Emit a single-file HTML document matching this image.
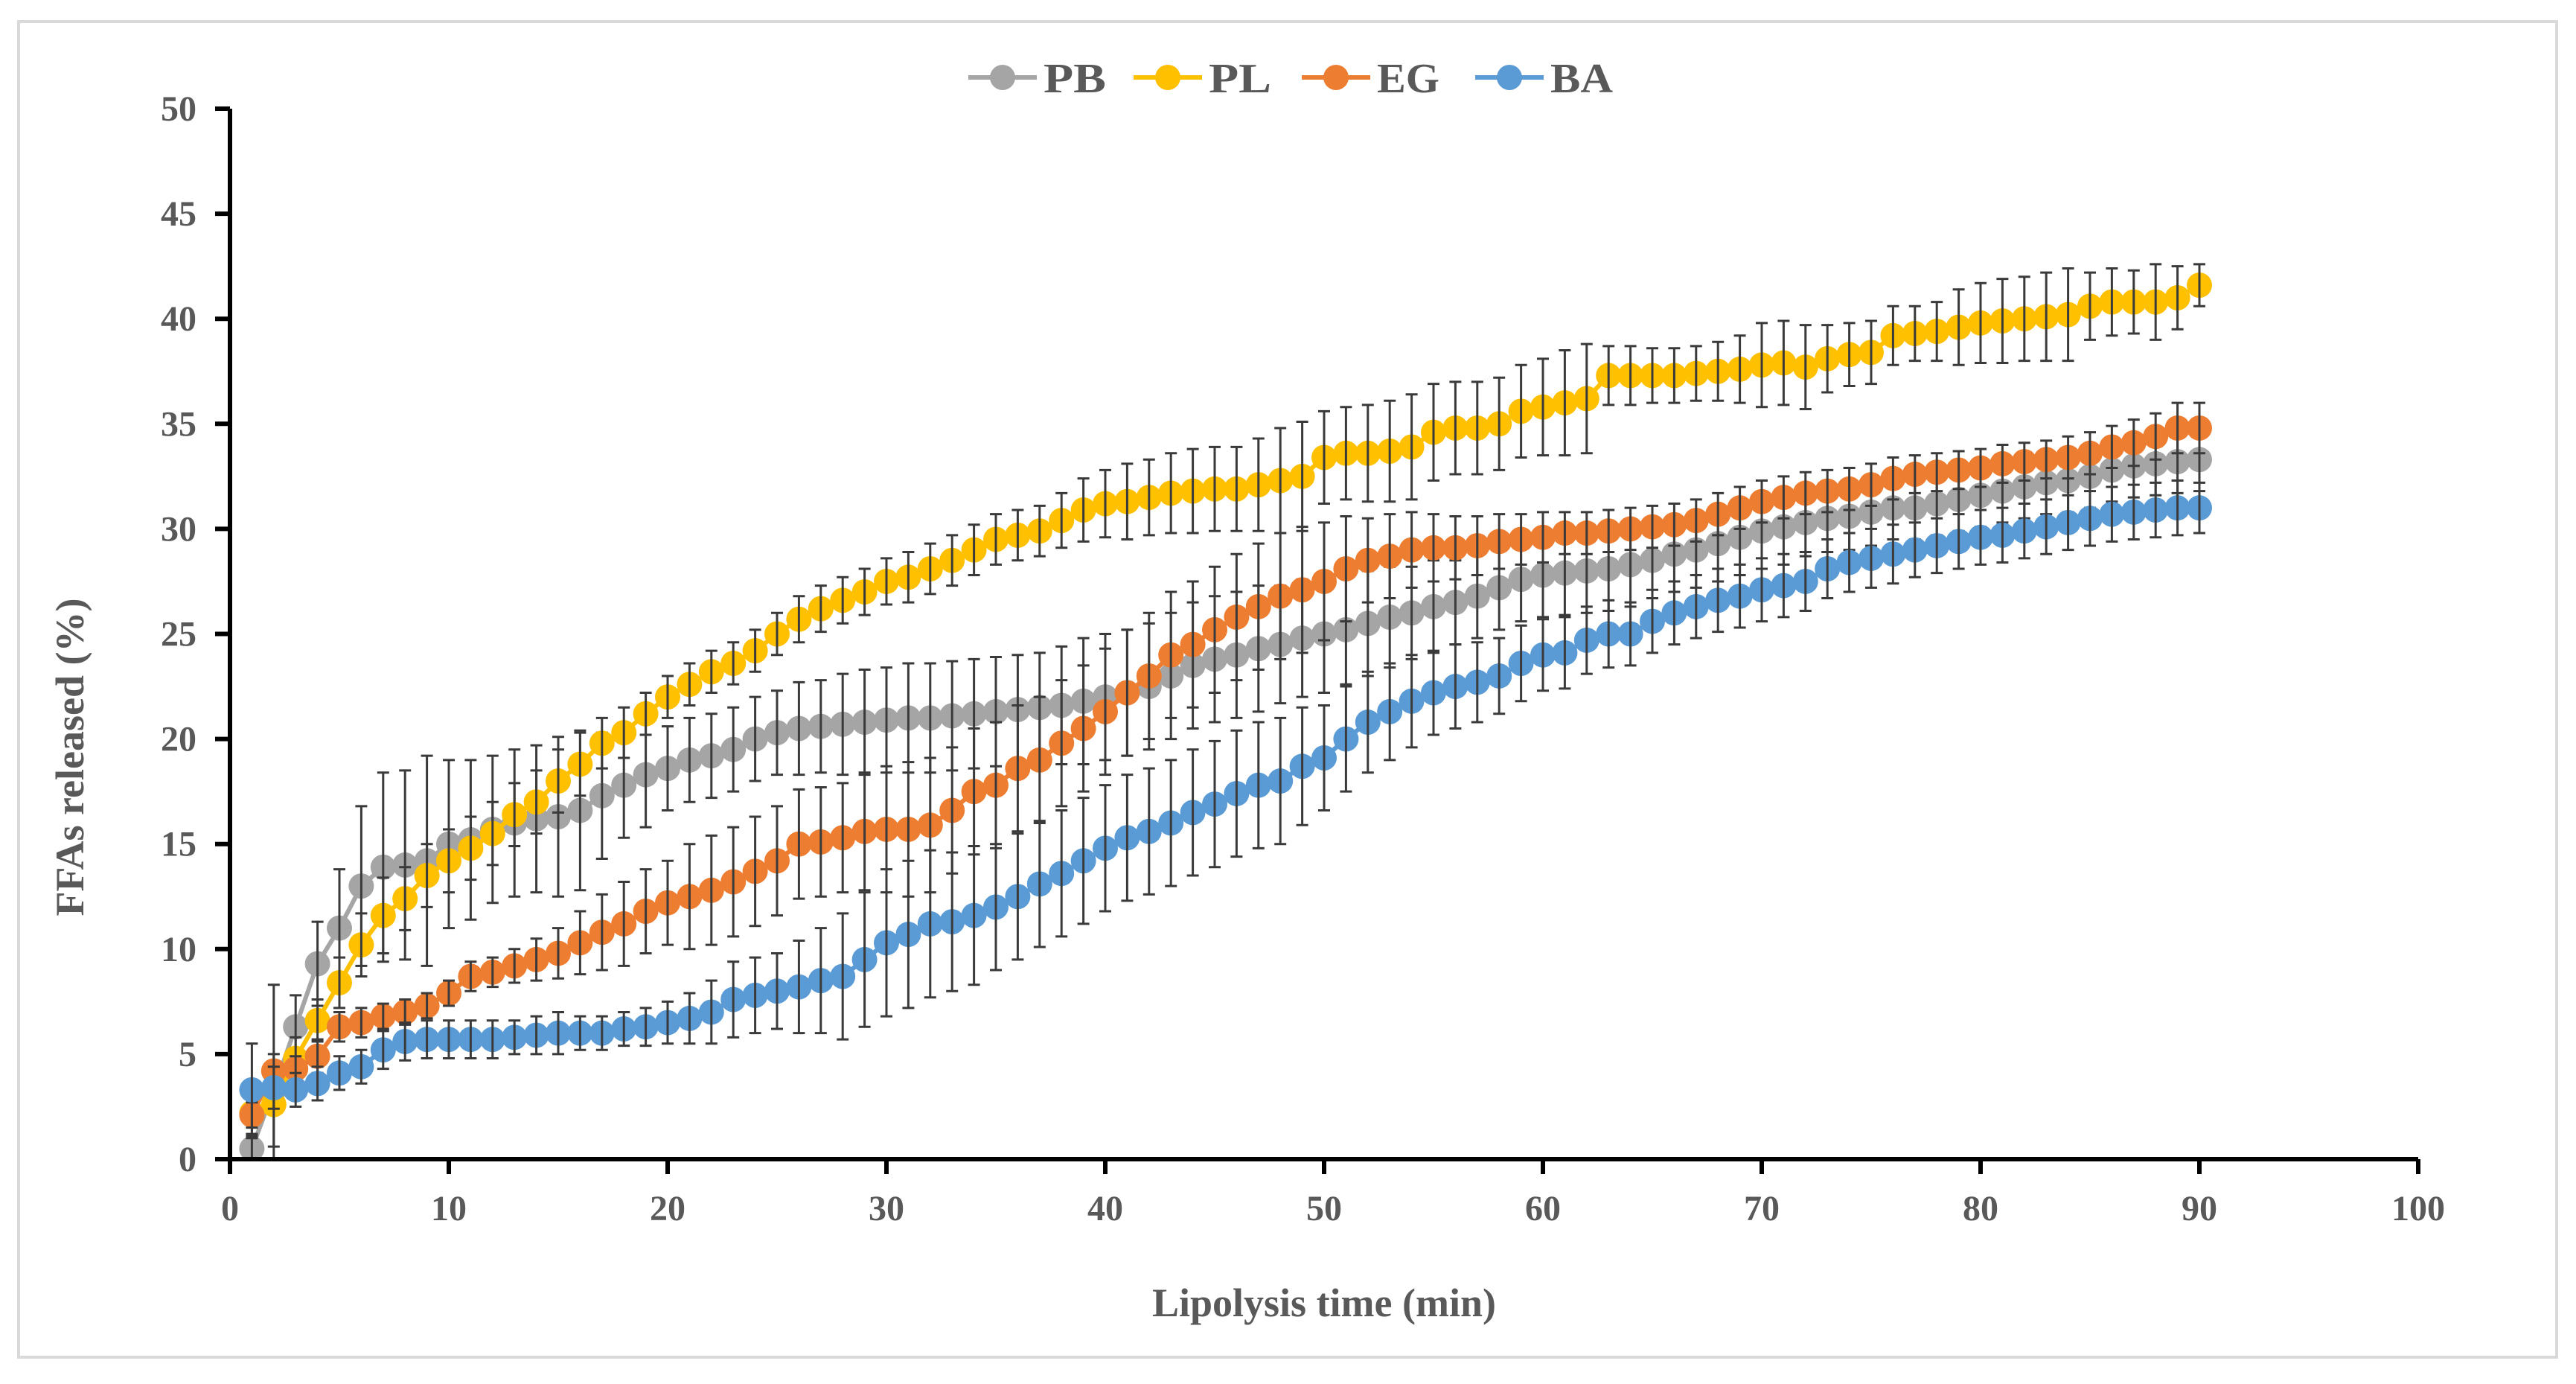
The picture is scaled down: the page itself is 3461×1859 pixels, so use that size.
<!DOCTYPE html>
<html><head><meta charset="utf-8"><style>
html,body{margin:0;padding:0;background:#fff;}
svg{display:block;}
text{font-family:"Liberation Serif",serif;font-weight:bold;fill:#595959;}
</style></head><body>
<svg id="chart" width="3461" height="1859" viewBox="0 0 3461 1859" xmlns="http://www.w3.org/2000/svg">
<rect x="25" y="29" width="3410" height="1794" fill="#fff" stroke="#d9d9d9" stroke-width="4"/>
<g id="grid"></g>
<g id="series"></g>
<g id="axes"></g>
<g id="legend"></g>
<text x="1779" y="1768" font-size="54" text-anchor="middle">Lipolysis time (min)</text>
<text x="0" y="0" font-size="54" text-anchor="middle" transform="translate(112,1017) rotate(-90)">FFAs released (%)</text>
</svg>
<script>
const seriesNames = ["PB","PL","EG","BA"];
const seriesColors = ["#a5a5a5","#ffc000","#ed7d31","#5b9bd5"];
const xTicks = [0,10,20,30,40,50,60,70,80,90,100];
const yTicks = [0,5,10,15,20,25,30,35,40,45,50];
const times = Array.from({length:90},(_,i)=>i+1);
const pb = [0.5,3.3,6.3,9.3,11,13,13.9,14,14.2,15,15.2,15.7,16,16.2,16.3,16.6,17.3,17.8,18.3,18.6,19,19.2,19.5,20,20.3,20.5,20.6,20.7,20.8,20.9,21,21,21.1,21.2,21.3,21.4,21.5,21.6,21.8,22,22.2,22.5,23,23.5,23.8,24,24.3,24.5,24.8,25,25.2,25.5,25.8,26,26.3,26.5,26.8,27.2,27.6,27.8,27.9,28,28.1,28.3,28.5,28.8,29,29.3,29.6,29.9,30.1,30.3,30.5,30.6,30.8,31,31,31.2,31.4,31.6,31.8,32,32.2,32.3,32.5,32.8,33,33.1,33.2,33.3];
const pl = [2.2,2.6,4.8,6.6,8.4,10.2,11.6,12.4,13.5,14.2,14.8,15.5,16.4,17,18,18.8,19.8,20.3,21.2,22,22.6,23.2,23.6,24.2,25,25.7,26.2,26.6,27,27.5,27.7,28.1,28.5,29,29.5,29.7,29.9,30.4,30.9,31.2,31.3,31.5,31.7,31.8,31.9,31.9,32.1,32.3,32.5,33.4,33.6,33.6,33.7,33.9,34.6,34.8,34.8,35,35.6,35.8,36,36.2,37.3,37.3,37.3,37.3,37.4,37.5,37.6,37.8,37.9,37.7,38.1,38.3,38.4,39.2,39.3,39.4,39.6,39.8,39.9,40,40.1,40.2,40.6,40.8,40.8,40.8,41,41.6];
const eg = [2.1,4.2,4.3,4.9,6.3,6.5,6.8,7,7.3,7.9,8.7,8.9,9.2,9.5,9.8,10.3,10.8,11.2,11.8,12.2,12.5,12.8,13.2,13.7,14.2,15,15.1,15.3,15.6,15.7,15.7,15.9,16.6,17.5,17.8,18.6,19,19.8,20.5,21.3,22.2,23,24,24.5,25.2,25.8,26.3,26.8,27.1,27.5,28.1,28.5,28.7,29,29.1,29.1,29.2,29.4,29.5,29.6,29.8,29.8,29.9,30,30.1,30.2,30.4,30.7,31,31.3,31.5,31.7,31.8,31.9,32.1,32.4,32.6,32.7,32.8,32.9,33.1,33.2,33.3,33.4,33.6,33.9,34.1,34.4,34.8,34.8];
const ba = [3.3,3.4,3.3,3.6,4.1,4.4,5.2,5.6,5.7,5.7,5.7,5.7,5.8,5.9,6,6,6,6.2,6.3,6.5,6.7,7,7.6,7.8,8,8.2,8.5,8.7,9.5,10.3,10.7,11.2,11.3,11.6,12,12.5,13.1,13.6,14.2,14.8,15.3,15.6,16,16.5,16.9,17.4,17.8,18,18.7,19.1,20,20.8,21.3,21.8,22.2,22.5,22.7,23,23.6,24,24.1,24.7,25,25,25.6,26,26.3,26.6,26.8,27.1,27.3,27.5,28.1,28.4,28.6,28.8,29,29.2,29.4,29.6,29.7,29.9,30.1,30.3,30.5,30.7,30.8,30.9,31,31];
const pbErr = [0.5,5,1.5,2,2.8,3.8,4.5,4.5,5,4,3.8,3.5,3.5,3.5,3.8,3.8,3,2.5,2.5,2,2,2,2,2,2,2.2,2.2,2.4,2.5,2.5,2.6,2.6,2.6,2.6,2.6,2.6,2.6,2.8,3,3,3,3,3,3,3,3,3,2.8,2.8,2.8,2.6,2.5,2.4,2.2,2.2,2,2,2,2,2,2,2,2,2,1.8,1.8,1.8,1.8,1.8,1.8,1.8,1.6,1.6,1.6,1.6,1.5,1.5,1.5,1.5,1.5,1.5,1.5,1.5,1.5,1.5,1.5,1.5,1.5,1.5,1.5];
const plErr = [1,2,1,1,1.2,1.5,1.8,1.5,1.5,1.5,1.5,1.5,1.5,1.5,1.5,1.5,1.2,1.2,1,1,1,1,1,1,1,1.1,1.1,1.1,1.1,1.1,1.2,1.2,1.2,1.2,1.2,1.2,1.2,1.3,1.5,1.6,1.8,1.8,1.9,2,2,2,2.2,2.5,2.6,2.2,2.2,2.3,2.4,2.5,2.3,2.2,2.2,2.2,2.2,2.3,2.5,2.6,1.4,1.4,1.3,1.3,1.3,1.4,1.6,2,2,2,1.6,1.5,1.5,1.4,1.3,1.4,1.8,1.9,2,2,2.1,2.2,1.6,1.6,1.5,1.8,1.5,1];
const egErr = [0.6,0.8,0.6,0.8,0.7,0.7,0.6,0.6,0.6,0.6,0.7,0.7,0.8,1,1.2,1.5,1.8,2,2,2,2.5,2.6,2.6,2.6,2.6,2.6,2.6,2.6,2.8,3,3.2,3.2,3,3,3,3,3,3,3,3,3,3,3,3,3,3,3,3,3,2.8,2.5,2,2,1.8,1.6,1.5,1.4,1.3,1.2,1.2,1,1,1,1,1,1,1,1,1,1,1,1,1,1,1,1,0.9,0.9,0.9,0.9,0.9,0.9,0.9,1,1,1,1.1,1.1,1.2,1.2];
const baErr = [2.2,1,0.8,0.8,0.8,0.8,0.9,0.9,0.9,0.9,0.9,0.9,0.8,0.9,1,0.8,0.8,0.8,0.9,1,1.2,1.5,1.8,1.8,1.8,2.2,2.5,3,3.2,3.5,3.5,3.5,3.3,3.3,3,3,3,3,3,3,3,3,3,3,3,3,3,3,2.8,2.5,2.5,2.4,2.3,2.2,2,2,1.9,1.8,1.8,1.7,1.7,1.6,1.6,1.5,1.5,1.5,1.5,1.5,1.5,1.5,1.5,1.4,1.4,1.4,1.4,1.4,1.3,1.3,1.3,1.3,1.3,1.3,1.3,1.3,1.3,1.3,1.3,1.3,1.3,1.2];

const NS="http://www.w3.org/2000/svg";
const X0=309,X1=3249,Y0=1557,Y1=146;
const xs=v=>X0+(v-0)/100*(X1-X0);
const ys=v=>Y0-(v-0)/50*(Y0-Y1);
function mk(tag,attrs,parent){const e=document.createElementNS(NS,tag);for(const k in attrs)e.setAttribute(k,attrs[k]);parent.appendChild(e);return e;}
const axes=document.getElementById('axes');
const series=document.getElementById('series');
const legend=document.getElementById('legend');

let ya=mk('line',{x1:X0,y1:Y0,x2:X0,y2:Y1,stroke:'#000','stroke-width':6},axes);


let xa=mk('line',{x1:X0-20,y1:Y0,x2:X1,y2:Y0,stroke:'#000','stroke-width':6},axes);


yTicks.forEach(t=>{
  const tk=mk('line',{x1:X0-20,y1:ys(t),x2:X0,y2:ys(t),stroke:'#000','stroke-width':6},axes);
  
  
  const lb=mk('text',{x:X0-45,y:ys(t)+16,'font-size':48,'text-anchor':'end'},axes);
  lb.textContent=t;
  
  
});
xTicks.forEach(t=>{
  const tk=mk('line',{x1:xs(t),y1:Y0,x2:xs(t),y2:Y0+20,stroke:'#000','stroke-width':6},axes);
  
  
  const lb=mk('text',{x:xs(t),y:Y0+82,'font-size':48,'text-anchor':'middle'},axes);
  lb.textContent=t;
  
  
});

const data=[pb,pl,eg,ba], errs=[pbErr,plErr,egErr,baErr];
data.forEach((vals,si)=>{
  const g=mk('g',{},series);
  
  
  const pts=times.map((t,i)=>xs(t)+','+ys(vals[i])).join(' ');
  const pl_=mk('polyline',{points:pts,fill:'none',stroke:seriesColors[si],'stroke-width':6},g);
  
  
  times.forEach((t,i)=>{
    const c=mk('circle',{cx:xs(t),cy:ys(vals[i]),r:17,fill:seriesColors[si]},g);
    
    
  });
  times.forEach((t,i)=>{
    const e=errs[si][i],x=xs(t),yt=ys(vals[i]+e),yb=ys(Math.max(0,vals[i]-e));
    const eb=mk('path',{d:`M${x},${yt}V${yb}M${x-8},${yt}H${x+8}M${x-8},${yb}H${x+8}`,stroke:'#3a3a3a','stroke-width':3,fill:'none'},g);
    
    
  });
});

const legX=[1301,1523,1749,1982];
seriesNames.forEach((n,i)=>{
  const g=mk('g',{},legend);
  
  
  mk('line',{x1:legX[i],y1:104,x2:legX[i]+92,y2:104,stroke:seriesColors[i],'stroke-width':6},g);
  mk('circle',{cx:legX[i]+46,cy:104,r:17,fill:seriesColors[i]},g);
  const t=mk('text',{x:legX[i]+101,y:124,'font-size':56,textLength:84,lengthAdjust:'spacingAndGlyphs'},g);
  t.textContent=n;
});
</script>
</body></html>
